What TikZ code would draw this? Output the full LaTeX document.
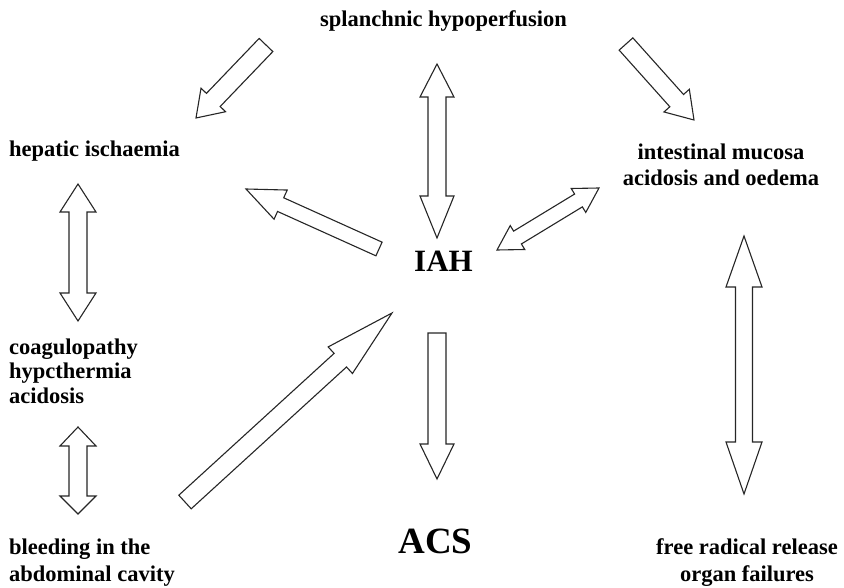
\documentclass[tikz,border=0pt]{standalone}
\usepackage{fontspec}
\setmainfont{Liberation Serif}
\usetikzlibrary{positioning,calc}

\newcommand{\blockarr}[5]{%
  \coordinate (#1-#2-h) at ($(#2)!#5!(#1)$);
  \draw[blk] ($(#1)!#3!90:(#2)$) -- ($(#1-#2-h)!#3!-90:(#1)$) -- ($(#1-#2-h)!#4!-90:(#1)$) -- (#2)
    -- ($(#1-#2-h)!#4!90:(#1)$) -- ($(#1-#2-h)!#3!90:(#1)$) -- ($(#1)!#3!-90:(#2)$) -- cycle;}
\newcommand{\dblockarr}[6]{%
  \coordinate (#1-#2-ha) at ($(#1)!#5!(#2)$);
  \coordinate (#1-#2-hb) at ($(#2)!#6!(#1)$);
  \draw[blk] (#1) -- ($(#1-#2-ha)!#4!90:(#2)$) -- ($(#1-#2-ha)!#3!90:(#2)$) -- ($(#1-#2-hb)!#3!-90:(#1)$)
    -- ($(#1-#2-hb)!#4!-90:(#1)$) -- (#2) -- ($(#1-#2-hb)!#4!90:(#1)$) -- ($(#1-#2-hb)!#3!90:(#1)$)
    -- ($(#1-#2-ha)!#3!-90:(#2)$) -- ($(#1-#2-ha)!#4!-90:(#2)$) -- cycle;}

\begin{document}
\begin{tikzpicture}[
      x=1pt, y=-1pt,
      txt/.style={inner sep=0pt, font=\fontsize{22.5}{27}\selectfont\bfseries},
      big/.style={inner sep=0pt, font=\fontsize{31}{36}\selectfont\bfseries},
      huge/.style={inner sep=0pt, font=\fontsize{37}{42}\selectfont\bfseries},
      blk/.style={draw=black!85, fill=white, line width=1.1pt, line join=miter},
    ]
    \useasboundingbox (0,0) rectangle (844,588);

    \node[txt, anchor=base] (sp) at (443.5,27) {splanchnic hypoperfusion};
    \node[txt, anchor=base west] (hep) at (9,157) {hepatic ischaemia};
    \node[txt, anchor=base, align=center, font=\fontsize{22.5}{26}\selectfont\bfseries] (int) at (721,186) {intestinal mucosa\\acidosis and oedema};
    \node[big, anchor=base] (iah) at (443.5,272) {IAH};
    \node[txt, anchor=base west, align=left, font=\fontsize{22.5}{24.5}\selectfont\bfseries] (coag) at (9,403) {coagulopathy\\hypcthermia\\acidosis};
    \node[txt, anchor=base west, align=left] (bleed) at (9,581) {bleeding in the\\abdominal cavity};
    \node[huge, anchor=base] (acs) at (435.5,553) {ACS};
    \node[txt, anchor=base, align=center] (frr) at (747,581) {free radical release\\organ failures};

    \coordinate (sp-l) at (266,45);    \coordinate (hep-r) at (196,118);
    \coordinate (sp-r) at (626,44);    \coordinate (int-t) at (694,120);
    \coordinate (sp-b) at (437,64);    \coordinate (iah-t) at (437,238);
    \coordinate (iah-l) at (379,249);  \coordinate (hep-b) at (246,189);
    \coordinate (iah-r) at (497,250);  \coordinate (int-l) at (599,188);
    \coordinate (hep-d) at (78,184);   \coordinate (coag-t) at (78,321);
    \coordinate (coag-b) at (78,427);  \coordinate (bleed-t) at (78,514);
    \coordinate (bleed-r) at (185,502); \coordinate (iah-s) at (392,313);
    \coordinate (iah-b) at (437,333);  \coordinate (acs-t) at (437,479);
    \coordinate (int-b) at (744,236);  \coordinate (frr-t) at (744,494);

    \blockarr{sp-l}{hep-r}{9.5pt}{17pt}{25pt}
    \blockarr{sp-r}{int-t}{9.2pt}{17pt}{26pt}
    \dblockarr{sp-b}{iah-t}{9pt}{17pt}{33pt}{42pt}
    \blockarr{iah-l}{hep-b}{7.5pt}{16pt}{38pt}
    \dblockarr{iah-r}{int-l}{7.5pt}{14pt}{24pt}{24pt}
    \dblockarr{hep-d}{coag-t}{9pt}{18pt}{28pt}{28pt}
    \dblockarr{coag-b}{bleed-t}{9pt}{18pt}{19pt}{18pt}
    \blockarr{bleed-r}{iah-s}{9.2pt}{18pt}{70pt}
    \blockarr{iah-b}{acs-t}{9pt}{17pt}{35pt}
    \dblockarr{int-b}{frr-t}{8.5pt}{18pt}{51pt}{52pt}
  \end{tikzpicture}
\end{document}
